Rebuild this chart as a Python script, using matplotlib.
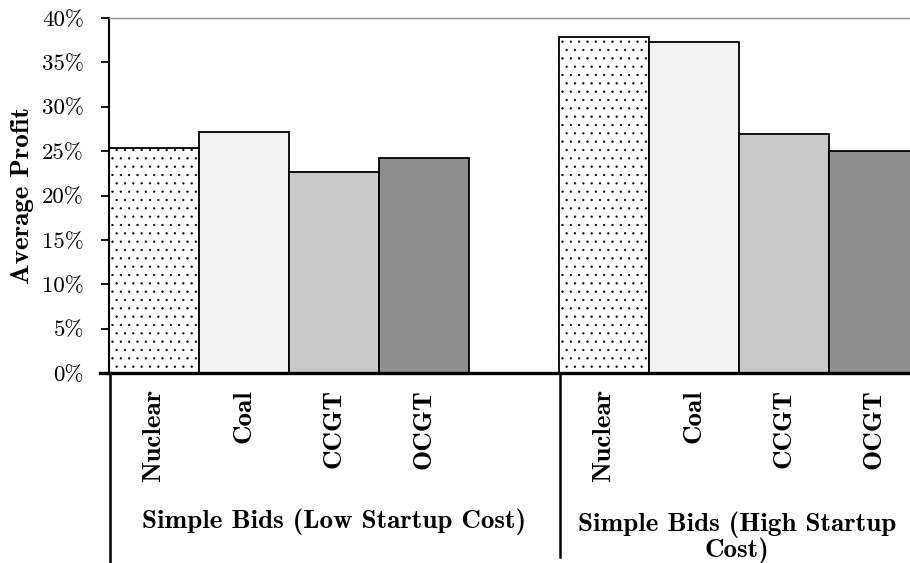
import matplotlib.pyplot as plt
from matplotlib.lines import Line2D

# data
groups = ["Simple Bids (Low Startup Cost)", "Simple Bids (High Startup\nCost)"]
techs = ["Nuclear", "Coal", "CCGT", "OCGT"]
low_startup = [25.4, 27.2, 22.7, 24.2]
high_startup = [37.9, 37.3, 26.9, 25.0]
yticks = [0, 5, 10, 15, 20, 25, 30, 35, 40]

colors = ["white", "#f2f2f2", "#c9c9c9", "#8e8e8e"]
hatches = ["..", None, None, None]

plt.rcParams["hatch.linewidth"] = 0.4

fig = plt.figure(figsize=(9.1, 5.63), dpi=100)
W, H = 910, 563
ax = fig.add_axes([109 / W, 1 - 373 / H, 801 / W, 355 / H])

# two groups of four bars, with one empty slot between them
for g, vals in enumerate([low_startup, high_startup]):
    start = 0 if g == 0 else 5
    for i, v in enumerate(vals):
        ax.bar(start + i + 0.5, v, width=1.0, color=colors[i], hatch=hatches[i],
               edgecolor="black", linewidth=1.3, zorder=2)

ax.set_xlim(0, 801 / 90)
ax.set_ylim(0, 40)
ax.set_yticks(yticks)
ax.set_yticklabels([f"{t}%" for t in yticks], fontfamily="cmr10", fontsize=16.5)
ax.set_xticks([])
ax.tick_params(axis="y", direction="out", length=6, width=1.3, pad=12)

ax.spines["right"].set_visible(False)
ax.spines["top"].set_color("#8c8c8c")
ax.spines["top"].set_linewidth(1.0)
ax.spines["left"].set_linewidth(1.5)
ax.spines["bottom"].set_linewidth(2.4)
ax.spines["bottom"].set_zorder(5)

fig.text(23 / W, 1 - 196 / H, "Average Profit", rotation=90, ha="center", va="center",
         fontfamily="cmb10", fontsize=19.5)

# category labels under the axis
for g in range(2):
    start = 0 if g == 0 else 5
    for i, t in enumerate(techs):
        x = (109 + (start + i + 0.5) * 90) / W
        fig.text(x, 1 - 389 / H, t, rotation=90, ha="center", va="top",
                 fontfamily="cmb10", fontsize=19.5)

fig.text(334 / W, 1 - 522 / H, groups[0], ha="center", va="center",
         fontfamily="cmb10", fontsize=19.5)
fig.text(737 / W, 1 - 538 / H, groups[1], ha="center", va="center",
         fontfamily="cmb10", fontsize=19.5, linespacing=1.0)

# group separators of the multi-level axis
for xp, yb in [(109.5, 563), (560, 557)]:
    fig.add_artist(Line2D([xp / W, xp / W], [1 - 373 / H, 1 - yb / H],
                          color="black", lw=1.8, transform=fig.transFigure))
fig.add_artist(Line2D([100 / W, 109 / W], [1 - 373 / H, 1 - 373 / H],
                      color="black", lw=2.4, transform=fig.transFigure))

fig.savefig("out.png", dpi=100)
